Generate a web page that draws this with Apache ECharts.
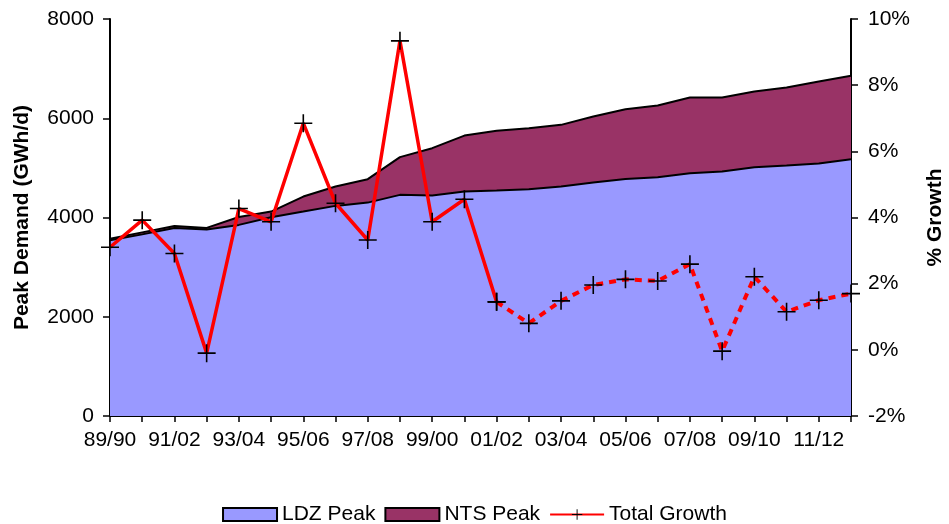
<!DOCTYPE html>
<html>
<head>
<meta charset="utf-8">
<script src="https://cdn.jsdelivr.net/npm/echarts@6/dist/echarts.min.js"></script>
<style>
html,body{margin:0;padding:0;background:#fff;}
#chart{width:949px;height:524px;}
</style>
</head>
<body>
<div id="chart"></div>
<script>
var categories = ['89/90','90/91','91/02','92/93','93/04','94/95','95/06','96/97','97/08','98/99','99/00','00/01','01/02','02/03','03/04','04/05','05/06','06/07','07/08','08/09','09/10','10/11','11/12','12/13'];
var ldzPeak = [3540,3660,3790,3760,3851,4006,4119,4234,4300,4456,4442,4522,4542,4570,4624,4704,4778,4812,4893,4926,5014,5047,5087,5175];
var ntsPeak = [30,40,40,30,159,113,303,390,472,760,955,1129,1204,1230,1243,1330,1405,1445,1525,1492,1525,1573,1653,1680];
var totalGrowth = [3.1,3.92,2.91,-0.1,4.27,3.87,6.85,4.43,3.32,9.34,3.87,4.55,1.45,0.8,1.48,1.96,2.13,2.08,2.59,-0.04,2.21,1.15,1.5,1.7];
var lastActual = 12;

var actual = totalGrowth.map(function(v,i){ return i <= lastActual ? v : null; });
var forecast = totalGrowth.map(function(v,i){ return i >= lastActual ? v : null; });

var cross = 'path://M0,8.2H18V9.8H0Z M8.2,0H9.8V18H8.2Z';
var font = 'Liberation Sans, Arial, sans-serif';

var chart = echarts.init(document.getElementById('chart'));
chart.setOption({
  animation: false,
  textStyle: { fontFamily: font },
  grid: { left: 110, right: 98, top: 19, bottom: 108, containLabel: false, outerBoundsMode: 'none' },
  legend: {
    top: 499,
    left: 'center',
    itemWidth: 54,
    itemHeight: 13,
    itemGap: 9,
    textStyle: { fontSize: 21, color: '#000', fontFamily: font },
    data: [
      { name: 'LDZ Peak', icon: 'rect', itemStyle: { color: '#9999FF', borderColor: '#000', borderWidth: 2 } },
      { name: 'NTS Peak', icon: 'rect', itemStyle: { color: '#993366', borderColor: '#000', borderWidth: 2 } },
      { name: 'Total Growth' }
    ]
  },
  xAxis: {
    type: 'category',
    data: categories,
    boundaryGap: false,
    axisLine: { lineStyle: { color: '#000', width: 2 } },
    axisTick: { show: true, interval: 0, length: 6, inside: false, lineStyle: { color: '#000', width: 1.5 } },
    axisLabel: { interval: 1, fontSize: 21, color: '#000', margin: 14, fontFamily: font },
    splitLine: { show: false }
  },
  yAxis: [
    {
      type: 'value', min: 0, max: 8000, interval: 2000,
      name: 'Peak Demand (GWh/d)', nameLocation: 'middle', nameRotate: 90, nameGap: 77,
      nameTextStyle: { fontSize: 21, fontWeight: 'bold', color: '#000', fontFamily: font },
      axisLine: { show: true, lineStyle: { color: '#000', width: 2 } },
      axisTick: { show: true, length: 7, lineStyle: { color: '#000', width: 1.5 } },
      axisLabel: { fontSize: 21, color: '#000', margin: 16, fontFamily: font, formatter: function(v){ return String(v); } },
      splitLine: { show: false }
    },
    {
      type: 'value', min: -2, max: 10, interval: 2, position: 'right',
      name: '% Growth', nameLocation: 'middle', nameRotate: 90, nameGap: 74,
      nameTextStyle: { fontSize: 21, fontWeight: 'bold', color: '#000', fontFamily: font },
      axisLine: { show: true, lineStyle: { color: '#000', width: 2 } },
      axisTick: { show: true, length: 7, lineStyle: { color: '#000', width: 1.5 } },
      axisLabel: { fontSize: 21, color: '#000', margin: 17, formatter: '{value}%', fontFamily: font },
      splitLine: { show: false }
    }
  ],
  series: [
    {
      name: 'LDZ Peak', type: 'line', stack: 'peak', data: ldzPeak, yAxisIndex: 0,
      symbol: 'none', z: 1,
      lineStyle: { color: '#000', width: 2 },
      itemStyle: { color: '#9999FF' },
      areaStyle: { color: '#9999FF', opacity: 1 }
    },
    {
      name: 'NTS Peak', type: 'line', stack: 'peak', data: ntsPeak, yAxisIndex: 0,
      symbol: 'none', z: 1,
      lineStyle: { color: '#000', width: 2 },
      itemStyle: { color: '#993366' },
      areaStyle: { color: '#993366', opacity: 1 }
    },
    {
      name: 'Total Growth', type: 'line', data: actual, yAxisIndex: 1,
      symbol: cross, symbolSize: 18, showAllSymbol: true, z: 5,
      lineStyle: { color: '#FF0000', width: 3.5 },
      itemStyle: { color: '#000' }
    },
    {
      name: 'Total Growth', type: 'line', data: forecast, yAxisIndex: 1,
      symbol: cross, symbolSize: 18, showAllSymbol: true, z: 5,
      lineStyle: { color: '#FF0000', width: 4, type: [7, 6] },
      itemStyle: { color: '#000' }
    }
  ]
});
</script>
</body>
</html>
